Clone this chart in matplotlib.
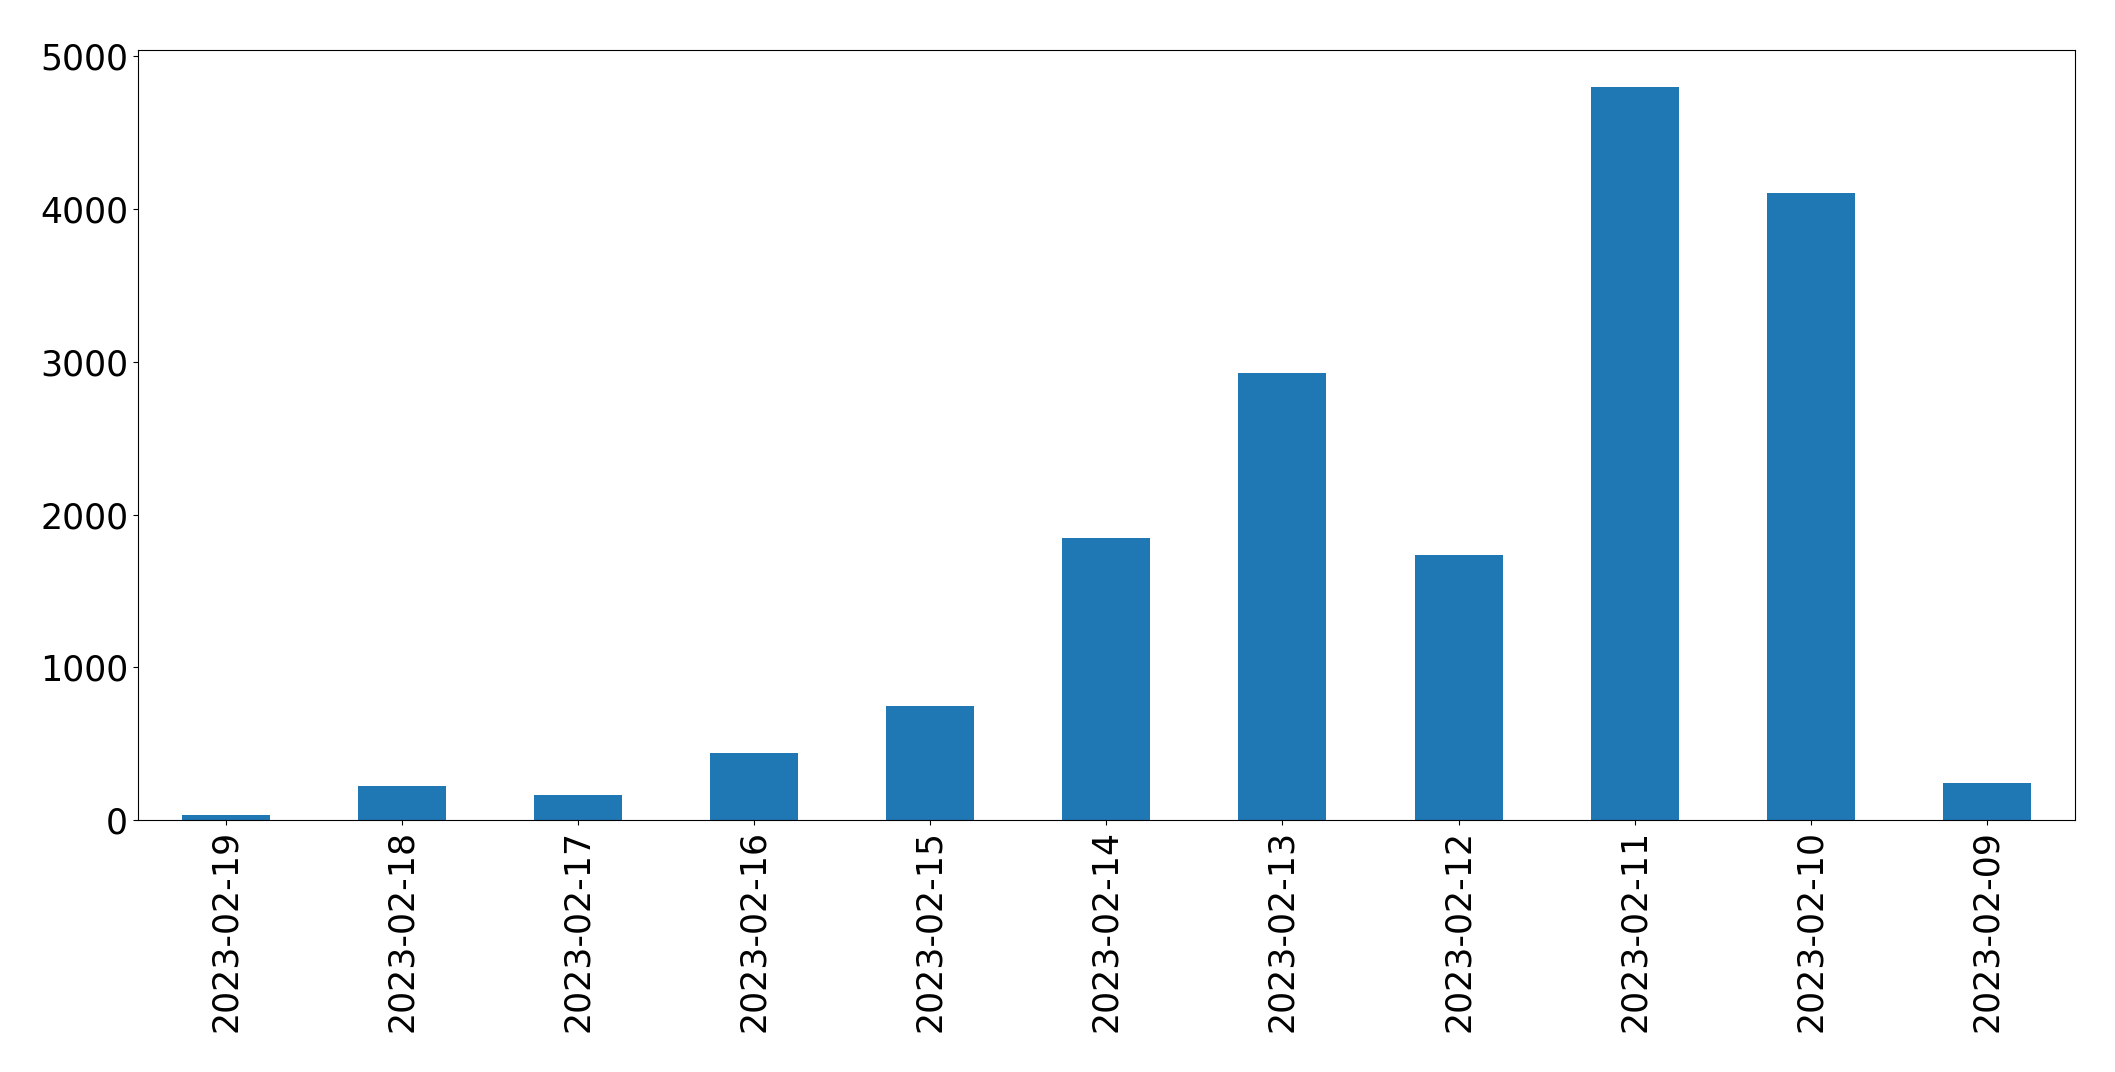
import matplotlib
matplotlib.use("Agg")
import matplotlib.pyplot as plt

dates = ["2023-02-19", "2023-02-18", "2023-02-17", "2023-02-16", "2023-02-15",
         "2023-02-14", "2023-02-13", "2023-02-12", "2023-02-11", "2023-02-10",
         "2023-02-09"]
counts = [33, 223, 164, 440, 750, 1845, 2927, 1739, 4800, 4106, 246]

fig = plt.figure(figsize=(21.15, 10.72), dpi=100)
ax = fig.add_axes([0.0652, 0.235, 0.9158, 0.718])

x = range(len(dates))
ax.bar(x, counts, width=0.5, color="#1f77b4")
ax.set_xlim(-0.5, len(dates) - 0.5)
ax.set_xticks(list(x))
ax.set_xticklabels(dates, rotation=90)
ax.tick_params(labelsize=25)

fig.savefig("out.png", dpi=100)
